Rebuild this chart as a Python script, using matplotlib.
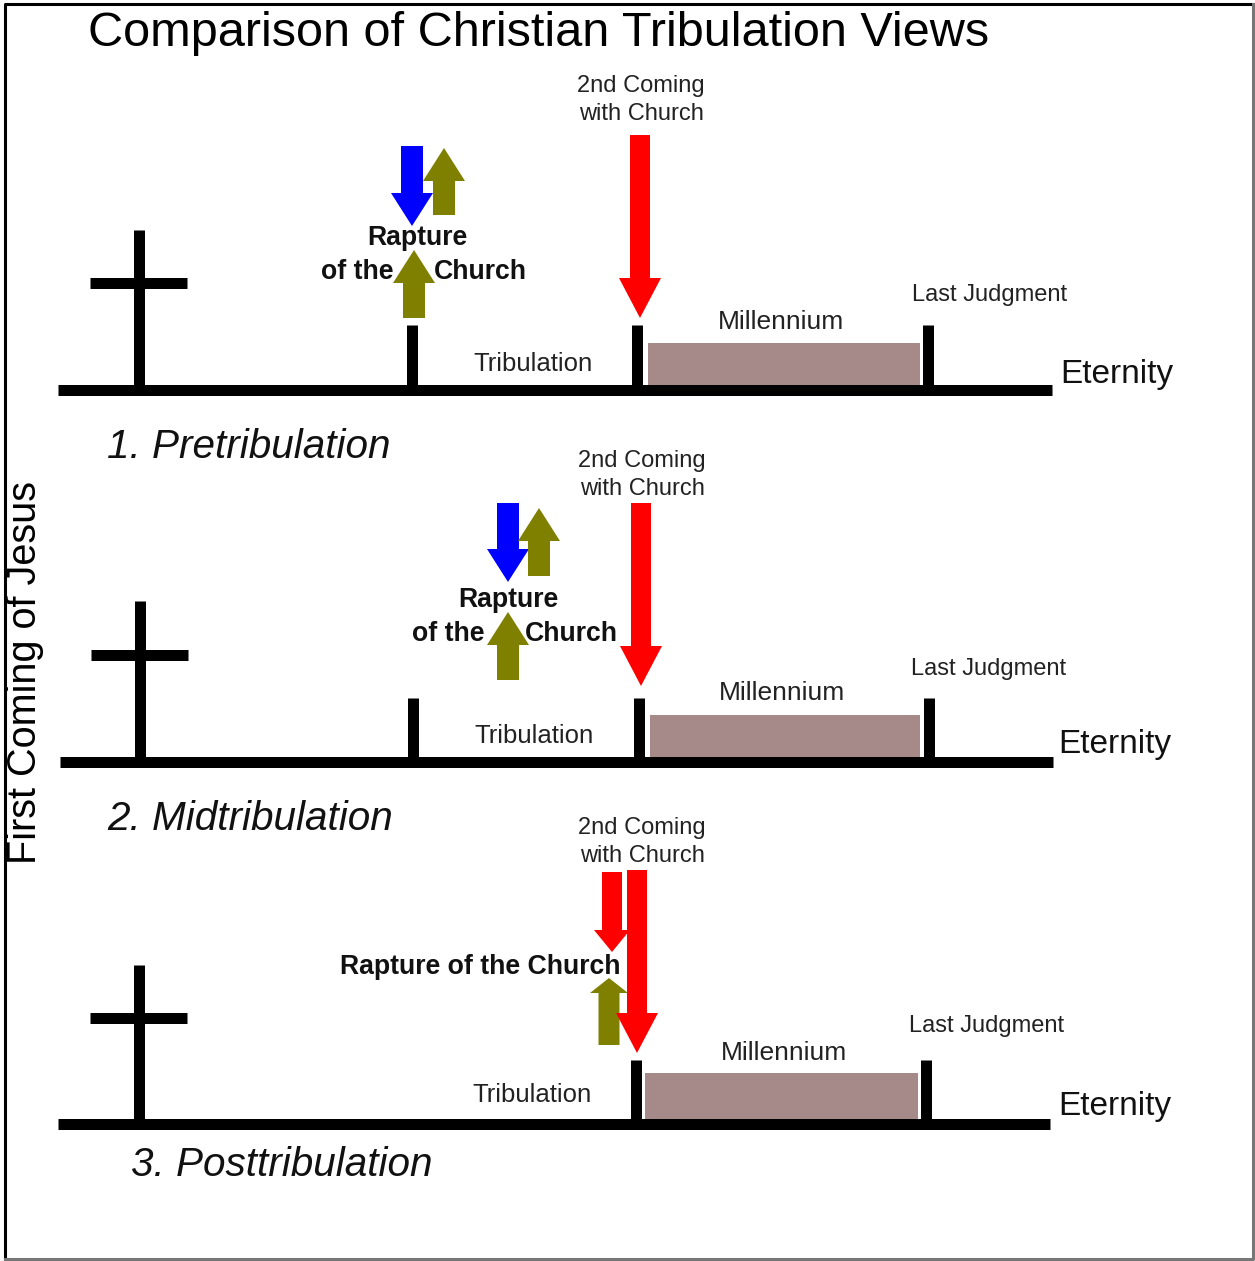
import matplotlib
matplotlib.use("Agg")
import matplotlib.pyplot as plt
from matplotlib.patches import Rectangle

plt.rcParams['font.family'] = ['Liberation Sans', 'DejaVu Sans']

# --- data (pixel space of the original drawing) ---
title = "Comparison of Christian Tribulation Views"
side_label = "First Coming of Jesus"
panel_names = ["1. Pretribulation", "2. Midtribulation", "3. Posttribulation"]
name_pos = [(107, 447), (107, 819), (131, 1165)]

baseline_y = [390, 762, 1124]
baseline_x = [(58, 1052), (60, 1053), (58, 1050)]
cross_x = [139, 140, 139]
cross_top = [230, 601, 965]
cross_bar_y = [283, 655, 1018]
cross_bar_x = [(90, 187), (91, 188), (90, 187)]

tick_x = [[412, 637, 928], [413, 639, 929], [636, 926]]
tick_top = [325, 698, 1060]

mill_x = [(648, 920), (650, 920), (645, 918)]
mill_top = [343, 715, 1073]

trib_pos = [(533, 364), (534, 736), (532, 1095)]
mill_pos = [(781, 322), (782, 693), (784, 1053)]
judg_pos = [(990, 295), (989, 669), (987, 1026)]
eter_pos = [(1060, 375), (1058, 745), (1058, 1107)]
coming_pos = [(641, 100), (642, 475), (642, 842)]

# arrows: (x, y_from, y_to, colour)
arrows = [
    [(640, 135, 318, 'red'), (412, 146, 226, 'blue'),
     (444, 215, 148, 'olive'), (414, 318, 250, 'olive')],
    [(641, 503, 686, 'red'), (508, 503, 582, 'blue'),
     (539, 576, 508, 'olive'), (508, 680, 612, 'olive')],
    [(612, 872, 952, 'red'), (609, 1045, 978, 'olive'),
     (637, 870, 1053, 'red')],
]
rapture_text = [
    [("Rapture", 417, 238), ("of the", 357, 272), ("Church", 480, 272)],
    [("Rapture", 508, 600), ("of the", 448, 634), ("Church", 571, 634)],
    [("Rapture of the Church", 480, 967)],
]

colours = {'red': '#ff0000', 'blue': '#0000ff', 'olive': '#7f7f00'}

W, H = 1255, 1261
fig = plt.figure(figsize=(W / 100, H / 100), dpi=100)
ax = fig.add_axes([0, 0, 1, 1])
ax.set_xlim(0, W)
ax.set_ylim(H, 0)
ax.axis('off')

# frame
ax.plot([5, 5, 1253], [1259, 4, 4], color='black', lw=2.2)
ax.plot([5, 1253, 1253], [1259, 1259, 4], color='#777777', lw=2.2)

ax.text(539, 34, title, ha='center', va='center', fontsize=35)
ax.text(25, 672, side_label, rotation=90, ha='center', va='center', fontsize=28.5)

px = 0.72  # pixels -> points
for i in range(3):
    y = baseline_y[i]
    ax.add_patch(Rectangle((mill_x[i][0], mill_top[i]), mill_x[i][1] - mill_x[i][0],
                           y - mill_top[i], color='#a68a8a', lw=0))
    ax.hlines(y, baseline_x[i][0], baseline_x[i][1], color='black', lw=11 * px)
    ax.vlines(cross_x[i], cross_top[i], y, color='black', lw=11 * px)
    ax.hlines(cross_bar_y[i], cross_bar_x[i][0], cross_bar_x[i][1], color='black', lw=11 * px)
    for tx in tick_x[i]:
        ax.vlines(tx, tick_top[i], y, color='black', lw=11 * px)

    for x, y0, y1, c in arrows[i]:
        big = abs(y1 - y0) > 150
        small_red = (c == 'red' and not big)
        if big:
            w, hw, hl = 20, 42, 40
        elif small_red:
            w, hw, hl = 20, 36, 22
        elif i == 2:
            w, hw, hl = 21, 38, 15
        else:
            w, hw, hl = 22, 42, 33
        ax.arrow(x, y0, 0, y1 - y0, width=w, head_width=hw, head_length=hl,
                 length_includes_head=True, color=colours[c], lw=0)

    for s, x, yy in rapture_text[i]:
        ax.text(x, yy, s, ha='center', va='center', fontsize=19.2, fontweight='bold',
                color='#111111')

    ax.text(*trib_pos[i], "Tribulation", ha='center', va='center', fontsize=18.5, color='#222222')
    ax.text(*mill_pos[i], "Millennium", ha='center', va='center', fontsize=19, color='#222222')
    ax.text(*judg_pos[i], "Last Judgment", ha='center', va='center', fontsize=17, color='#222222')
    ax.text(*eter_pos[i], "Eternity", ha='left', va='center', fontsize=24, color='#111111')
    ax.text(*coming_pos[i], "2nd Coming\nwith Church", ha='center', va='center', fontsize=17,
            color='#222222', linespacing=1.3)
    ax.text(*name_pos[i], panel_names[i], ha='left', va='center', fontsize=29.2,
            style='italic', color='#111111')

fig.savefig("out.png", dpi=100)
